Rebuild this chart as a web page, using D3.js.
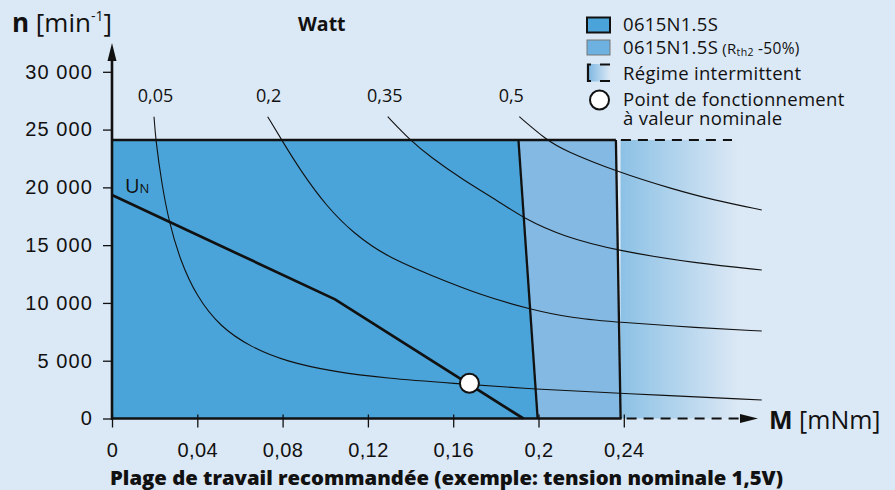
<!DOCTYPE html>
<html>
<head>
<meta charset="utf-8">
<script src="https://cdn.jsdelivr.net/npm/d3@7"></script>
<style>
  html, body { margin: 0; padding: 0; background: #dbe8f5; }
  svg { display: block; font-family: "Open Sans", "Noto Sans", sans-serif; }
</style>
</head>
<body>
<div id="chart"></div>
<script>
// ---- data ----
const mTicks = [0, 0.04, 0.08, 0.12, 0.16, 0.2, 0.24];
const mMinorTicks = [0.02, 0.06, 0.1, 0.14, 0.18, 0.22];
const nTicks = [0, 5000, 10000, 15000, 20000, 25000, 30000];
const nMinorTicks = d3.range(1000, 30000, 1000).filter(v => v % 5000 !== 0);

const nMax = 24100;                              // speed limit line
const rthBoundary = [[0.1906, 24100], [0.1996, 0]];   // 0615N1.5S
const rth2Boundary = [[0.2363, 24100], [0.2385, 0]];  // Rth2 -50%
const unLine = [[0, 19340], [0.1046, 10310], [0.1929, 0]];
const nominalPoint = [0.1676, 3046];

const powerLabels = ['0,05', '0,2', '0,35', '0,5'];
const power005 = [[0.0197, 26115], [0.0205, 24100], [0.0233, 20350], [0.0267, 17030], [0.0319, 13715],
  [0.0397, 10540], [0.0507, 7945], [0.0647, 6213], [0.0819, 4915], [0.1038, 4050], [0.1288, 3478],
  [0.1585, 3060], [0.1992, 2527], [0.2382, 2180], [0.3047, 1600]];
const power02 = [[0.0730, 26115], [0.0796, 24100], [0.0882, 21503], [0.1007, 18327], [0.1132, 16025],
  [0.1288, 14000], [0.1491, 12417], [0.1726, 10686], [0.1960, 9449], [0.2163, 8670], [0.2382, 8324],
  [0.2742, 7857], [0.3047, 7571]];
const power035 = [[0.1293, 26115], [0.1397, 24100], [0.1491, 22654], [0.1647, 20637], [0.1804, 18907],
  [0.1929, 17323], [0.2117, 15731], [0.2374, 14494], [0.2742, 13430], [0.3047, 12850]];
const power05 = [[0.1910, 26115], [0.2038, 24100], [0.2116, 23234], [0.2367, 21356], [0.2632, 19834],
  [0.2820, 18907], [0.3047, 18042]];
const powerCurves = [power005, power02, power035, power05];

const legendLabels = ['0615N1.5S', '0615N1.5S', 'Régime intermittent', 'Point de fonctionnement'];

// ---- drawing ----
const width = 895, height = 490;
const bg = '#dbe8f5', dark = '#4aa4d9', light = '#83b9e2', ink = '#111';

const locale = d3.formatLocale({ decimal: ',', thousands: '\u00a0', grouping: [3], currency: ['', ''] });
const fmtN = locale.format(',');
const fmtM = locale.format('~g');

const x = d3.scaleLinear().domain([0, 0.32]).range([112, 112 + 0.32 * 2132.5]);
const y = d3.scaleLinear().domain([0, 30000]).range([418.5, 71.8]);

const svg = d3.select('#chart').append('svg')
  .attr('width', width)
  .attr('height', height);

svg.append('rect').attr('width', width).attr('height', height).attr('fill', bg);

const defs = svg.append('defs');
const fade = defs.append('linearGradient')
  .attr('id', 'fade')
  .attr('gradientUnits', 'userSpaceOnUse')
  .attr('x1', x(rth2Boundary[1][0])).attr('x2', 738)
  .attr('y1', 0).attr('y2', 0);
fade.append('stop').attr('offset', 0).attr('stop-color', '#8cc1e5');
fade.append('stop').attr('offset', 1).attr('stop-color', bg);

const fadeLegend = defs.append('linearGradient').attr('id', 'fadeLegend');
fadeLegend.append('stop').attr('offset', 0).attr('stop-color', '#7db7e2');
fadeLegend.append('stop').attr('offset', 1).attr('stop-color', bg);

const pt = d => [x(d[0]), y(d[1])];

// intermittent zone fading out
svg.append('rect')
  .attr('x', x(rth2Boundary[1][0]))
  .attr('y', y(nMax))
  .attr('width', 760 - x(rth2Boundary[1][0]))
  .attr('height', y(0) - y(nMax))
  .attr('fill', 'url(#fade)');

// Rth2 -50% zone
svg.append('polygon')
  .attr('points', [rthBoundary[0], rth2Boundary[0], rth2Boundary[1], rthBoundary[1]].map(pt).join(' '))
  .attr('fill', light);

// continuous operation zone
svg.append('polygon')
  .attr('points', [[0, 0], [0, nMax], rthBoundary[0], rthBoundary[1]].map(pt).join(' '))
  .attr('fill', dark);

// power hyperbolas (traced points, smoothed)
const line = d3.line().x(d => x(d[0])).y(d => y(d[1])).curve(d3.curveBasis);
svg.append('g').selectAll('path')
  .data(powerCurves)
  .join('path')
  .attr('d', line)
  .attr('fill', 'none')
  .attr('stroke', ink)
  .attr('stroke-width', 1.1);

const labelDx = [1.5, 1, -3, -8];
svg.append('g').selectAll('text')
  .data(powerLabels)
  .join('text')
  .attr('x', (d, i) => x(powerCurves[i][0][0]) + labelDx[i])
  .attr('y', 101.7)
  .attr('text-anchor', 'middle')
  .style('font-size', '18px')
  .attr('fill', ink)
  .text(d => d);

// boundaries
[rthBoundary, rth2Boundary].forEach(b => {
  svg.append('path')
    .attr('d', d3.line()(b.map(pt)))
    .attr('stroke', ink)
    .attr('stroke-width', 2.3)
    .attr('fill', 'none');
});

// U_N characteristic
svg.append('path')
  .attr('d', d3.line()(unLine.map(pt)))
  .attr('stroke', ink)
  .attr('stroke-width', 2.7)
  .attr('fill', 'none');

// n max line: solid then dashed
svg.append('line')
  .attr('x1', x(0) - 1).attr('x2', x(rth2Boundary[0][0]))
  .attr('y1', y(nMax)).attr('y2', y(nMax))
  .attr('stroke', ink).attr('stroke-width', 2.6);
svg.append('line')
  .attr('x1', x(rth2Boundary[0][0]) + 5).attr('x2', 732)
  .attr('y1', y(nMax)).attr('y2', y(nMax))
  .attr('stroke', ink).attr('stroke-width', 2.2)
  .attr('stroke-dasharray', '10,7');

// y axis
const yAxisG = svg.append('g').attr('transform', `translate(${x(0)},0)`);
yAxisG.call(d3.axisLeft(y).tickValues(nMinorTicks).tickSize(4).tickFormat(''));
yAxisG.call(d3.axisLeft(y).tickValues(nTicks).tickSize(9).tickPadding(10).tickFormat(fmtN));
yAxisG.selectAll('.domain').remove();
yAxisG.selectAll('line').attr('stroke', ink).attr('stroke-width', 1.3);
yAxisG.selectAll('text').style('font-size', '20px').style('letter-spacing', '1.1px').attr('fill', ink);

svg.append('line')
  .attr('x1', x(0)).attr('x2', x(0))
  .attr('y1', y(0) + 1).attr('y2', 58)
  .attr('stroke', ink).attr('stroke-width', 2.6);
svg.append('path')
  .attr('d', `M${x(0)},43 L${x(0) - 4.5},61 L${x(0) + 4.5},61 Z`)
  .attr('fill', ink);

// x axis
const xAxisG = svg.append('g').attr('transform', `translate(0,${y(0)})`);
xAxisG.call(d3.axisBottom(x).tickValues(mMinorTicks).tickSize(5).tickFormat(''));
xAxisG.call(d3.axisBottom(x).tickValues(mTicks).tickSize(9).tickPadding(15).tickFormat(fmtM));
xAxisG.selectAll('.domain').remove();
xAxisG.selectAll('line').attr('stroke', ink).attr('stroke-width', 1.3);
xAxisG.selectAll('.tick').filter(d => mTicks.includes(d)).select('line').attr('y1', -4);
xAxisG.selectAll('text').style('font-size', '20px').style('letter-spacing', '0.4px').attr('fill', ink);

svg.append('line')
  .attr('x1', x(0) - 1).attr('x2', x(rth2Boundary[1][0]) + 1)
  .attr('y1', y(0)).attr('y2', y(0))
  .attr('stroke', ink).attr('stroke-width', 2.6);
svg.append('line')
  .attr('x1', x(rth2Boundary[1][0]) + 6).attr('x2', 742)
  .attr('y1', y(0)).attr('y2', y(0))
  .attr('stroke', ink).attr('stroke-width', 2.2)
  .attr('stroke-dasharray', '10,7');
svg.append('path')
  .attr('d', `M758,${y(0)} L740,${y(0) - 4.5} L740,${y(0) + 4.5} Z`)
  .attr('fill', ink);

// nominal operating point
svg.append('circle')
  .attr('cx', x(nominalPoint[0]))
  .attr('cy', y(nominalPoint[1]))
  .attr('r', 9.5)
  .attr('fill', 'white')
  .attr('stroke', ink)
  .attr('stroke-width', 2);

// axis titles
const nTitle = svg.append('text').attr('x', 12).attr('y', 31.5).attr('fill', ink).style('font-size', '26px');
nTitle.append('tspan').style('font-weight', 'bold').text('n');
nTitle.append('tspan').text(' [min');
nTitle.append('tspan').style('font-size', '14px').attr('dy', -11).text('-1');
nTitle.append('tspan').attr('dy', 11).text(']');

const mTitle = svg.append('text').attr('x', 769).attr('y', 428.5).attr('fill', ink).style('font-size', '25px');
mTitle.append('tspan').style('font-weight', 'bold').text('M');
mTitle.append('tspan').text(' [mNm]');

svg.append('text')
  .attr('x', 298).attr('y', 31)
  .attr('fill', ink)
  .style('font-size', '19.5px').style('font-weight', 'bold')
  .text('Watt');

const un = svg.append('text').attr('x', 125).attr('y', 193).attr('fill', ink).style('font-size', '20px');
un.append('tspan').text('U');
un.append('tspan').style('font-size', '13px').text('N');

svg.append('text')
  .attr('x', 110).attr('y', 485)
  .attr('fill', ink)
  .attr('textLength', 673).attr('lengthAdjust', 'spacingAndGlyphs')
  .style('font-size', '19px').style('font-weight', 800)
  .text('Plage de travail recommandée (exemple: tension nominale 1,5V)');

// legend
const lg = svg.append('g');
lg.append('rect').attr('x', 587).attr('y', 17.5).attr('width', 23).attr('height', 15)
  .attr('fill', dark).attr('stroke', ink).attr('stroke-width', 2);
lg.append('rect').attr('x', 587).attr('y', 40).attr('width', 23).attr('height', 15)
  .attr('fill', '#6db1e1').attr('stroke', '#777').attr('stroke-width', 1);
lg.append('rect').attr('x', 588).attr('y', 64).attr('width', 22).attr('height', 17.5)
  .attr('fill', 'url(#fadeLegend)');
lg.append('path').attr('d', 'M591,64.5 H588 V81 H591').attr('fill', 'none').attr('stroke', ink).attr('stroke-width', 2.2);
lg.append('path').attr('d', 'M600,64.5 H610 M600,81 H610').attr('fill', 'none').attr('stroke', ink).attr('stroke-width', 2);
lg.append('circle').attr('cx', 599.5).attr('cy', 100).attr('r', 9.5)
  .attr('fill', 'white').attr('stroke', ink).attr('stroke-width', 2);

const legendY = [30.7, 53.5, 80, 106];
lg.selectAll('text.item')
  .data(legendLabels)
  .join('text')
  .attr('class', 'item')
  .attr('x', 623)
  .attr('y', (d, i) => legendY[i])
  .attr('fill', ink)
  .style('font-size', '18.5px')
  .style('letter-spacing', '0.3px')
  .text(d => d);

lg.selectAll('text.item').filter((d, i) => i === 1).each(function () {
  const t = d3.select(this);
  t.append('tspan').style('font-size', '15px').style('letter-spacing', '0.3px').text(' (R');
  t.append('tspan').style('font-size', '10.5px').attr('dy', 2).text('th2');
  t.append('tspan').style('font-size', '15.5px').attr('dy', -2).text(' -50%)');
});

// second line of the last legend entry, kept in the same text element
lg.selectAll('text.item').filter((d, i) => i === 3)
  .append('tspan').attr('x', 623).attr('dy', 19).text('à valeur nominale');
</script>
</body>
</html>
